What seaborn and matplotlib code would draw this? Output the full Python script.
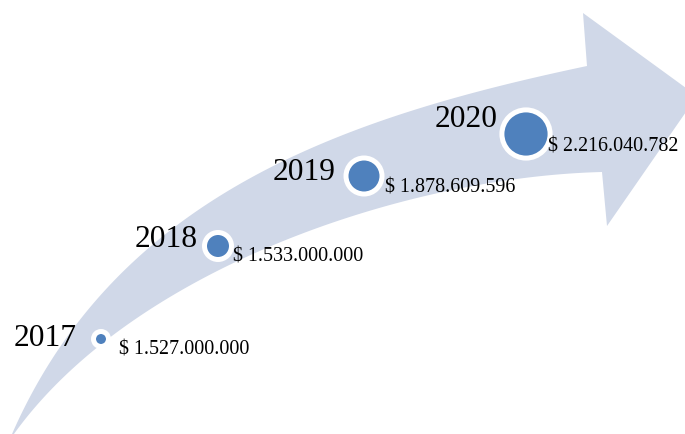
import numpy as np
import pandas as pd
import matplotlib
matplotlib.use("Agg")
import matplotlib.pyplot as plt
from matplotlib.patches import Polygon
import seaborn as sns

# ---- data ----
years = ["2017", "2018", "2019", "2020"]
value_labels = ["$ 1.527.000.000", "$ 1.533.000.000", "$ 1.878.609.596", "$ 2.216.040.782"]
values = [1527000000, 1533000000, 1878609596, 2216040782]

# ---- layout (pixel coordinates, y down) ----
circle_x = [101, 218, 364, 526]
circle_y = [340, 247, 177, 135]
circle_r_mid = [7.5, 13.5, 18.0, 24.1]   # radius to middle of white ring (px)
ring_px = 5.0

year_pos = [(14, 346), (135, 247), (273, 180), (435, 127)]
value_pos = [(119, 355), (233, 262), (385, 193), (548, 152)]

upper_edge = [(9, 442), (13, 435), (33, 397), (57, 357), (77, 323), (100, 293), (127, 267),
              (160, 240), (200, 213), (250, 180), (300, 152), (350, 132), (400, 115),
              (460, 98), (497, 90), (587, 67)]
lower_edge = [(9, 442), (20, 435), (50, 390), (77, 363), (110, 337), (150, 310), (200, 283),
              (243, 262), (300, 237), (350, 215), (400, 202), (460, 190), (497, 183), (602, 173)]
head = [(587, 67), (583, 14), (697, 97), (607, 227), (602, 173)]

BAND = "#d0d8e8"
BLUE = "#4f81bd"


def bezier_fit(pts, n=120):
    """Least-squares cubic Bezier with fixed end points."""
    p = np.array(pts, dtype=float)
    d = np.r_[0, np.cumsum(np.hypot(*np.diff(p, axis=0).T))]
    t = d / d[-1]
    P0, P3 = p[0], p[-1]
    for _ in range(30):
        b0 = (1 - t) ** 3
        b1 = 3 * t * (1 - t) ** 2
        b2 = 3 * t ** 2 * (1 - t)
        b3 = t ** 3
        A = np.c_[b1, b2]
        rhs = p - np.outer(b0, P0) - np.outer(b3, P3)
        sol, *_ = np.linalg.lstsq(A, rhs, rcond=None)
        P1, P2 = sol
        # reparameterize: nearest point on dense curve
        tt = np.linspace(0, 1, 2000)
        curve = (np.outer((1 - tt) ** 3, P0) + np.outer(3 * tt * (1 - tt) ** 2, P1)
                 + np.outer(3 * tt ** 2 * (1 - tt), P2) + np.outer(tt ** 3, P3))
        idx = [np.argmin(np.hypot(*(curve - q).T)) for q in p]
        t = tt[idx]
        t[0], t[-1] = 0.0, 1.0
    tt = np.linspace(0, 1, n)
    return (np.outer((1 - tt) ** 3, P0) + np.outer(3 * tt * (1 - tt) ** 2, P1)
            + np.outer(3 * tt ** 2 * (1 - tt), P2) + np.outer(tt ** 3, P3))


sns.set_theme(style="white")
fig = plt.figure(figsize=(6.85, 4.35), dpi=100)
ax = fig.add_axes([0, 0, 1, 1])

up = bezier_fit(upper_edge)
lo = bezier_fit(lower_edge)
outline = np.vstack([up, np.array(head[1:-1], float), lo[::-1]])
ax.add_patch(Polygon(outline, closed=True, facecolor=BAND, edgecolor="none", zorder=1))

px2pt = 72.0 / 100.0
df = pd.DataFrame({
    "x": circle_x,
    "y": circle_y,
    "year": years,
    "value": values,
})
sizes = [(2 * r * px2pt) ** 2 for r in circle_r_mid]
sns.scatterplot(data=df, x="x", y="y", s=sizes, color=BLUE, edgecolor="white",
                linewidth=ring_px * px2pt, ax=ax, zorder=3, legend=False)
ax.set_xlim(0, 685)
ax.set_ylim(435, 0)
ax.axis("off")

for yr, (tx, ty) in zip(years, year_pos):
    ax.text(tx, ty, yr, fontfamily="Liberation Serif", fontsize=22.7, color="black",
            ha="left", va="baseline", zorder=4)
for lab, (tx, ty) in zip(value_labels, value_pos):
    ax.text(tx, ty, lab, fontfamily="Liberation Serif", fontsize=14.4, color="black",
            ha="left", va="baseline", zorder=4)

fig.savefig("out.png", dpi=100)
